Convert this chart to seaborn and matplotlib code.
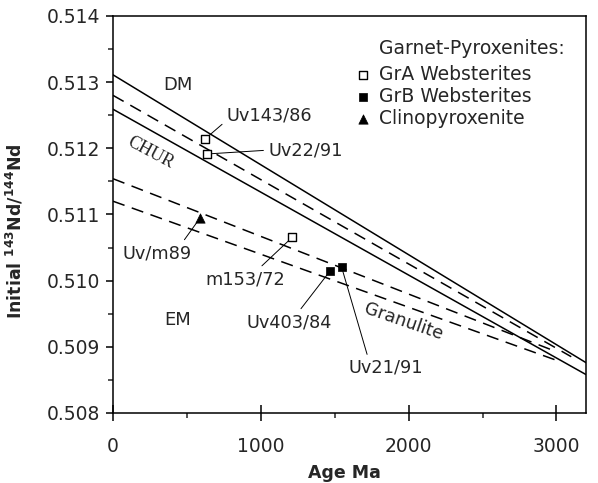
import matplotlib
matplotlib.use("Agg")
import matplotlib.pyplot as plt
from matplotlib.ticker import MultipleLocator, FormatStrFormatter
import seaborn as sns

# ---- data ----
# reference lines (age Ma, initial 143Nd/144Nd) endpoints
dm_age = [0, 3200]
dm_nd = [0.51311, 0.50876]
chur_age = [0, 3200]
chur_nd = [0.51259, 0.50858]
dashA_age = [0, 3100]
dashA_nd = [0.51280, 0.50885]
dashB_age = [0, 2960]
dashB_nd = [0.51154, 0.50896]
dashC_age = [0, 3020]
dashC_nd = [0.51120, 0.50878]

# samples
grA_names = ["Uv143/86", "Uv22/91", "m153/72"]
grA_age = [620, 637, 1214]
grA_nd = [0.512136, 0.511914, 0.510658]
grB_names = ["Uv403/84", "Uv21/91"]
grB_age = [1466, 1547]
grB_nd = [0.510139, 0.510199]
cpx_names = ["Uv/m89"]
cpx_age = [588]
cpx_nd = [0.510944]

legend_title = "Garnet-Pyroxenites:"
legend_labels = ["GrA Websterites", "GrB Websterites", "Clinopyroxenite"]

x_ticks = [0, 1000, 2000, 3000]
y_ticks = [0.508, 0.509, 0.510, 0.511, 0.512, 0.513, 0.514]

# ---- style ----
sns.set_style("ticks")
plt.rcParams["font.family"] = ["DejaVu Sans"]
plt.rcParams["mathtext.fontset"] = "dejavusans"

fig = plt.figure(figsize=(5.98, 4.83), dpi=100)
ax = fig.add_axes([0.189, 0.145, 0.791, 0.822])

lw = 1.1
dash = (0, (8, 5))
sns.lineplot(x=dm_age, y=dm_nd, ax=ax, color="black", lw=lw)
sns.lineplot(x=chur_age, y=chur_nd, ax=ax, color="black", lw=lw)
for a, n in [(dashA_age, dashA_nd), (dashB_age, dashB_nd), (dashC_age, dashC_nd)]:
    sns.lineplot(x=a, y=n, ax=ax, color="black", lw=lw, linestyle=dash)

sns.scatterplot(x=grA_age, y=grA_nd, ax=ax, marker="s", s=30, facecolor="white",
                edgecolor="black", linewidth=1.0, label=legend_labels[0], zorder=5)
sns.scatterplot(x=grB_age, y=grB_nd, ax=ax, marker="s", s=36, color="black",
                edgecolor="black", linewidth=0.5, label=legend_labels[1], zorder=5)
sns.scatterplot(x=cpx_age, y=cpx_nd, ax=ax, marker="^", s=45, color="black",
                edgecolor="black", linewidth=0.5, label=legend_labels[2], zorder=5)

ax.set_xlim(0, 3200)
ax.set_ylim(0.508, 0.514)
ax.set_xticks(x_ticks)
ax.set_yticks(y_ticks)
ax.xaxis.set_minor_locator(MultipleLocator(500))
ax.yaxis.set_minor_locator(MultipleLocator(0.0005))
ax.yaxis.set_major_formatter(FormatStrFormatter("%.3f"))
ax.tick_params(axis="both", which="major", direction="out", length=5, width=1.1,
               labelsize=13.5, color="black")
ax.tick_params(axis="both", which="minor", direction="out", length=3.5, width=1.1)
ax.tick_params(axis="x", which="major", direction="inout", length=11, pad=12)
ax.tick_params(axis="y", which="major", pad=4)
for s in ax.spines.values():
    s.set_visible(True)
    s.set_linewidth(1.1)
    s.set_color("black")

ax.set_xlabel("Age Ma", fontsize=12.5, fontweight="bold")
ax.set_ylabel(r"Initial $\mathbf{^{143}}$Nd/$\mathbf{^{144}}$Nd", fontsize=12.5,
              fontweight="bold")
ax.xaxis.set_label_coords(0.49, -0.128)
ax.yaxis.set_label_coords(-0.186, 0.458)

fs = 12.8
ap = dict(arrowstyle="-", color="black", lw=0.7, shrinkA=1, shrinkB=3)
ann = [
    (grA_names[0], grA_age[0], grA_nd[0], 767, 0.51250, "left", (0.0, 0.2)),
    (grA_names[1], grA_age[1], grA_nd[1], 1049, 0.511972, "left", (0.0, 0.5)),
    (grA_names[2], grA_age[2], grA_nd[2], 896, 0.510024, "center", (0.65, 1.0)),
    (grB_names[0], grB_age[0], grB_nd[0], 1191, 0.509374, "center", (0.6, 1.0)),
    (grB_names[1], grB_age[1], grB_nd[1], 1844, 0.508680, "center", (0.27, 1.0)),
    (cpx_names[0], cpx_age[0], cpx_nd[0], 298, 0.510416, "center", (0.85, 1.0)),
]
for name, x, y, tx, ty, ha, rp in ann:
    ax.annotate(name, xy=(x, y), xytext=(tx, ty), ha=ha, va="center", fontsize=fs,
                arrowprops=dict(ap, relpos=rp))

ax.text(438, 0.512953, "DM", ha="center", va="center", fontsize=13)
ax.text(438, 0.509404, "EM", ha="center", va="center", fontsize=13)
ax.text(250, 0.51193, "CHUR", ha="center", va="center", fontsize=13,
        family=["Liberation Serif", "DejaVu Serif"], rotation=-28)
ax.text(1962, 0.509374, "Granulite", ha="center", va="center", fontsize=fs,
        rotation=-19)

ax.text(0.5627, 0.9175, legend_title, transform=ax.transAxes, ha="left",
        va="center", fontsize=13.5)
ax.legend(loc="upper left", bbox_to_anchor=(0.5195, 0.8764), frameon=False,
          fontsize=13.5, handlelength=0.5, handletextpad=0.6, borderpad=0,
          borderaxespad=0, labelspacing=0.15)

fig.savefig("out.png", dpi=100)
